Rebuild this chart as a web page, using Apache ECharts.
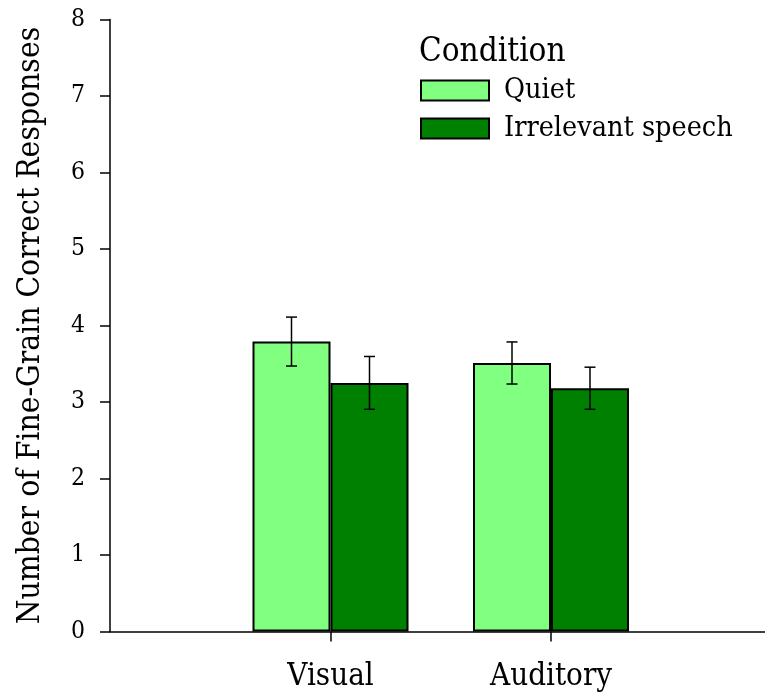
<!DOCTYPE html>
<html>
<head>
<meta charset="utf-8">
<script src="https://cdn.jsdelivr.net/npm/echarts@6/dist/echarts.min.js"></script>
<style>
  html, body { margin: 0; padding: 0; background: #fff; }
  #chart { width: 765px; height: 693px; }
</style>
</head>
<body>
<div id="chart"></div>
<script>
// Categories (empty slots pad the axis on both sides)
const categories = ['', 'Visual', 'Auditory', ''];
const seriesNames = ['Quiet', 'Irrelevant speech'];

// Mean number of fine-grain correct responses
const quietMeans = [null, 3.79, 3.51, null];
const speechMeans = [null, 3.25, 3.18, null];

// Error bar half-widths
const quietErr = [null, 0.32, 0.275, null];
const speechErr = [null, 0.345, 0.275, null];

const yTicks = [0, 1, 2, 3, 4, 5, 6, 7, 8];

const FONT = "'DejaVu Serif Condensed', 'DejaVu Serif', serif";
const BAR_W = 78;

function errorData(means, errs) {
  const out = [];
  means.forEach((m, i) => {
    if (m != null) out.push([i, m - errs[i], m + errs[i]]);
  });
  return out;
}

function errorSeries(means, errs, offset) {
  return {
    type: 'custom',
    data: errorData(means, errs),
    z: 5,
    silent: true,
    encode: { x: 0, y: [1, 2] },
    renderItem: function (params, api) {
      const lo = api.coord([api.value(0), api.value(1)]);
      const hi = api.coord([api.value(0), api.value(2)]);
      const x = lo[0] + offset;
      const cap = 5.5;
      const style = { stroke: '#000', lineWidth: 1.5, fill: null };
      return {
        type: 'group',
        children: [
          { type: 'line', shape: { x1: x, y1: lo[1], x2: x, y2: hi[1] }, style: style },
          { type: 'line', shape: { x1: x - cap, y1: lo[1], x2: x + cap, y2: lo[1] }, style: style },
          { type: 'line', shape: { x1: x - cap, y1: hi[1], x2: x + cap, y2: hi[1] }, style: style }
        ]
      };
    }
  };
}

const chart = echarts.init(document.getElementById('chart'), null, { renderer: 'canvas' });

chart.setOption({
  animation: false,
  backgroundColor: '#fff',
  title: {
    text: 'Condition',
    left: 419,
    top: 36,
    padding: 0,
    textStyle: { fontFamily: FONT, fontSize: 33, fontWeight: 'normal', color: '#000' }
  },
  legend: {
    data: seriesNames,
    left: 420,
    top: 76,
    orient: 'vertical',
    icon: 'rect',
    itemWidth: 68,
    itemHeight: 20,
    itemGap: 9,
    padding: 0,
    textStyle: { fontFamily: FONT, fontSize: 28.5, color: '#000', padding: [0, 0, 0, 10] }
  },
  grid: { left: 110, top: 19.5, right: -6.5, bottom: 61.5, containLabel: false, outerBoundsMode: 'none' },
  xAxis: {
    type: 'category',
    data: categories,
    boundaryGap: false,
    axisLine: { lineStyle: { color: '#000', width: 1.5 } },
    axisTick: {
      length: 10,
      interval: function (index) { return categories[index] !== ''; },
      lineStyle: { color: '#000', width: 1.5 }
    },
    axisLabel: {
      interval: 0,
      margin: 30,
      fontFamily: FONT,
      fontSize: 31,
      color: '#000'
    },
    splitLine: { show: false }
  },
  yAxis: {
    type: 'value',
    min: yTicks[0],
    max: yTicks[yTicks.length - 1],
    interval: 1,
    name: 'Number of Fine-Grain Correct Responses',
    nameLocation: 'middle',
    nameRotate: 90,
    nameGap: 63,
    nameTextStyle: { fontFamily: FONT, fontSize: 31.5, color: '#000' },
    axisLine: { show: true, lineStyle: { color: '#000', width: 1.5 } },
    axisTick: { show: true, length: 10, lineStyle: { color: '#000', width: 1.5 } },
    axisLabel: { margin: 25, fontFamily: FONT, fontSize: 24.5, color: '#000' },
    splitLine: { show: false }
  },
  series: [
    {
      name: seriesNames[0],
      type: 'bar',
      data: quietMeans,
      barWidth: BAR_W,
      barGap: '0%',
      itemStyle: { color: '#80FF80', borderColor: '#000', borderWidth: 2 }
    },
    {
      name: seriesNames[1],
      type: 'bar',
      data: speechMeans,
      barWidth: BAR_W,
      barGap: '0%',
      itemStyle: { color: '#008000', borderColor: '#000', borderWidth: 2 }
    },
    errorSeries(quietMeans, quietErr, -BAR_W / 2),
    errorSeries(speechMeans, speechErr, BAR_W / 2)
  ]
});
</script>
</body>
</html>
